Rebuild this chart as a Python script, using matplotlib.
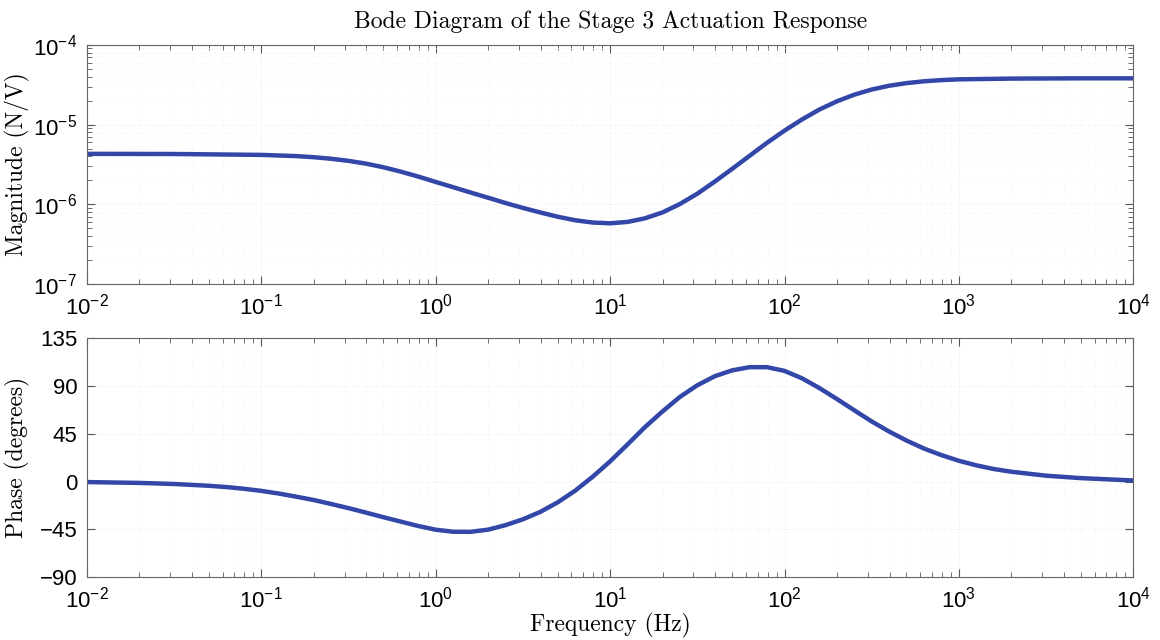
import matplotlib
matplotlib.use("Agg")
from matplotlib import pyplot as plt
from matplotlib.ticker import NullFormatter

# values
freq_mag = [0.01, 0.0316, 0.1, 0.158, 0.2, 0.251, 0.316, 0.398, 0.5, 0.631, 0.794,
            1, 1.26, 1.58, 2, 2.51, 3.16, 3.98, 5.01, 6.31, 7.94,
            10, 12.6, 15.8, 20, 25.1, 31.6, 39.8, 50.1, 63.1, 79.4,
            100, 126, 158, 200, 251, 316, 398, 501, 631, 794,
            1000, 2000, 5000, 10000]
magnitude = [4.30e-6, 4.28e-6, 4.17e-6, 4.03e-6, 3.90e-6, 3.73e-6, 3.51e-6, 3.24e-6, 2.92e-6,
             2.57e-6, 2.23e-6,
             1.91e-6, 1.64e-6, 1.41e-6, 1.21e-6, 1.04e-6, 9.03e-7, 7.91e-7, 7.00e-7, 6.32e-7,
             5.92e-7,
             5.79e-7, 6.03e-7, 6.68e-7, 7.94e-7, 1.01e-6, 1.36e-6, 1.93e-6, 2.79e-6, 4.07e-6,
             5.92e-6,
             8.41e-6, 1.16e-5, 1.54e-5, 1.96e-5, 2.37e-5, 2.75e-5, 3.07e-5, 3.31e-5, 3.49e-5,
             3.61e-5,
             3.69e-5, 3.77e-5, 3.80e-5, 3.80e-5]

freq_ph = [0.01, 0.02, 0.0316, 0.05, 0.0631, 0.0794,
           0.1, 0.126, 0.158, 0.2, 0.251, 0.316, 0.398, 0.5, 0.631, 0.794,
           1, 1.26, 1.58, 2, 2.51, 3.16, 3.98, 5.01, 6.31, 7.94,
           10, 12.6, 15.8, 20, 25.1, 31.6, 39.8, 50.1, 63.1, 79.4,
           100, 126, 158, 200, 251, 316, 398, 501, 631, 794,
           1000, 1260, 1580, 2000, 3160, 5010, 10000]
phase = [-0.5, -1.3, -2.3, -4.0, -5.2, -6.8,
         -8.8, -11.3, -14.2, -17.4, -21.1, -25.0, -29.2, -33.5, -37.7, -41.8,
         -45.3, -47.2, -47.3, -45.2, -41.0, -35.5, -28.5, -19.5, -8.5, 4.5,
         19, 35, 51, 66, 79.5, 90.5, 99, 104.5, 107.5, 107.5,
         104, 97, 88, 77.5, 67, 56.5, 47, 38.5, 31, 24.8,
         19.5, 15.2, 11.8, 9.2, 5.5, 3.2, 1.0]

freq_ticks = [1e-2, 1e-1, 1e0, 1e1, 1e2, 1e3, 1e4]
mag_ticks = [1e-7, 1e-6, 1e-5, 1e-4]
phase_ticks = [-90, -45, 0, 45, 90, 135]

plt.rcParams['font.family'] = 'Liberation Sans'
plt.rcParams['mathtext.fontset'] = 'custom'
plt.rcParams['mathtext.rm'] = 'Liberation Sans'
plt.rcParams['mathtext.it'] = 'Liberation Sans:italic'
plt.rcParams['mathtext.bf'] = 'Liberation Sans:bold'

line_color = "#3347a8"
serif = "cmr10"

fig = plt.figure(figsize=(11.6, 6.4), dpi=100)
ax1 = fig.add_axes([0.075, 0.556, 0.902, 0.374])
ax2 = fig.add_axes([0.075, 0.098, 0.902, 0.374])

ax1.plot(freq_mag, magnitude, color=line_color, lw=3.2, solid_joinstyle="round")
ax1.set_xscale("log")
ax1.set_yscale("log")
ax1.set_xticks(freq_ticks)
ax1.set_xlim(1e-2, 1e4)
ax1.set_yticks(mag_ticks)
ax1.set_ylim(1e-7, 1e-4)
ax1.yaxis.set_minor_formatter(NullFormatter())
ax1.set_ylabel("Magnitude (N/V)", fontfamily=serif, fontsize=17)
ax1.yaxis.set_label_coords(-0.054, 0.5)
ax1.set_title("Bode Diagram of the Stage 3 Actuation Response", fontfamily=serif,
              fontsize=17, pad=12)

ax2.plot(freq_ph, phase, color=line_color, lw=3.2, solid_joinstyle="round")
ax2.set_xscale("log")
ax2.set_xticks(freq_ticks)
ax2.set_xlim(1e-2, 1e4)
ax2.set_yticks(phase_ticks)
ax2.set_ylim(-90, 135)
ax2.set_ylabel("Phase (degrees)", fontfamily=serif, fontsize=17)
ax2.yaxis.set_label_coords(-0.054, 0.5)
ax2.set_xlabel("Frequency (Hz)", fontfamily=serif, fontsize=17, labelpad=0)

for a in (ax1, ax2):
    a.xaxis.set_minor_formatter(NullFormatter())
    a.tick_params(which="both", direction="in", top=True, right=True, labelsize=16,
                  color="#555555")
    a.tick_params(which="major", length=6, width=0.8, pad=7)
    a.tick_params(which="minor", length=3.5, width=0.6)
    a.grid(True, which="major", color="#ededed", linestyle=":", lw=0.8)
    a.grid(True, which="minor", color="#f4f4f4", linestyle=":", lw=0.6)
    for s in a.spines.values():
        s.set_color("#666666")
        s.set_linewidth(0.8)

plt.savefig("out.png", dpi=100)
